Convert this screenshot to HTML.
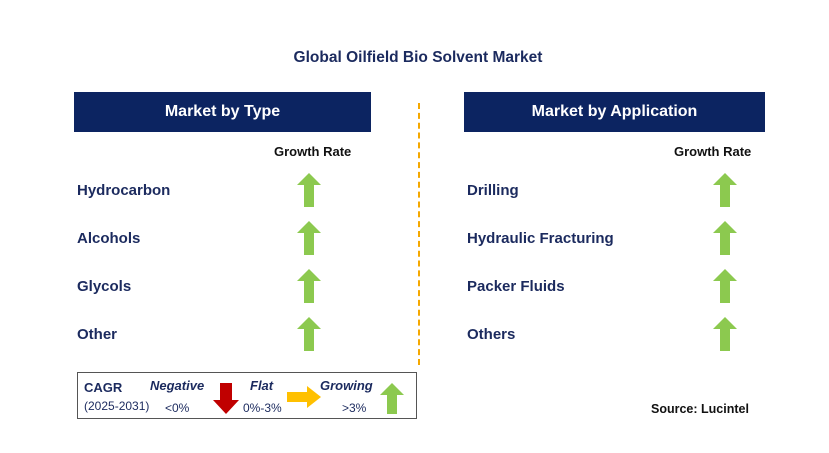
<!DOCTYPE html>
<html><head><meta charset="utf-8"><style>
body{margin:0;width:829px;height:453px;background:#fff;position:relative;font-family:"Liberation Sans",sans-serif;overflow:hidden}
.a{position:absolute}
.hdr{background:#0c2461;color:#fff;font-weight:bold;font-size:16px;text-align:center;line-height:40px;height:40px}
.lbl{font-weight:bold;font-size:15px;color:#1b2a5e}
.gr{font-weight:bold;font-size:13px;color:#111}
</style></head><body>
<div class="a" style="left:0;width:836px;top:49px;text-align:center;font-weight:bold;font-size:15.5px;color:#1b2a5e">Global Oilfield Bio Solvent Market</div>
<div class="a hdr" style="left:74px;top:92px;width:297px">Market by Type</div>
<div class="a hdr" style="left:464px;top:92px;width:301px">Market by Application</div>
<div class="a gr" style="left:274px;top:144px">Growth Rate</div>
<div class="a gr" style="left:674px;top:144px">Growth Rate</div>
<div class="a" style="left:418px;top:103px;height:262px;border-left:2px dashed #f5a800"></div>
<svg class="a" style="left:0;top:0" width="829" height="453">
<defs><polygon id="up" points="0,-17 12,-5 5,-5 5,17 -5,17 -5,-5 -12,-5" fill="#8cc94f"/></defs>
<g id="g"></g>
</svg>
<div id="rows"></div>
<div class="a" style="left:77px;top:372px;width:340px;height:47px;border:1px solid #555;box-sizing:border-box"></div>
<div class="a" style="left:84px;top:380px;font-weight:bold;font-size:13px;color:#1b2a5e">CAGR</div>
<div class="a" style="left:84px;top:399px;font-size:12px;color:#1b2a5e">(2025-2031)</div>
<div class="a" style="left:150px;top:378px;font-weight:bold;font-style:italic;font-size:13px;color:#1b2a5e">Negative</div>
<div class="a" style="left:165px;top:401px;font-size:12px;color:#1b2a5e">&lt;0%</div>
<div class="a" style="left:250px;top:378px;font-weight:bold;font-style:italic;font-size:13px;color:#1b2a5e">Flat</div>
<div class="a" style="left:243px;top:401px;font-size:12px;color:#1b2a5e">0%-3%</div>
<div class="a" style="left:320px;top:378px;font-weight:bold;font-style:italic;font-size:13px;color:#1b2a5e">Growing</div>
<div class="a" style="left:342px;top:401px;font-size:12px;color:#1b2a5e">&gt;3%</div>
<svg class="a" style="left:0;top:0" width="829" height="453">
<polygon points="220,383 232,383 232,400 239,400 226,414 213,400 220,400" fill="#c00000"/>
<polygon points="287,392 307,392 307,386 321,397 307,408 307,402 287,402" fill="#ffc000"/>
<polygon points="392,383 404,395 397,395 397,414 387,414 387,395 380,395" fill="#8cc94f"/>
</svg>
<div class="a" style="left:651px;top:402px;font-weight:bold;font-size:12.5px;color:#111">Source: Lucintel</div>
<script>
const typeCats=["Hydrocarbon","Alcohols","Glycols","Other"];
const appCats=["Drilling","Hydraulic Fracturing","Packer Fluids","Others"];
const rowY=i=>190+i*48;
const g=document.getElementById('g'),rows=document.getElementById('rows');
function add(cats,lx,ax,pre){
cats.forEach((c,i)=>{
const d=document.createElement('div');d.className='a lbl';d.style.left=lx+'px';d.style.top=(rowY(i)-8)+'px';d.textContent=c;


rows.appendChild(d);
const u=document.createElementNS('http://www.w3.org/2000/svg','use');u.setAttribute('href','#up');u.setAttribute('transform','translate('+ax+','+rowY(i)+')');


g.appendChild(u);});
}
add(typeCats,77,309,'type');add(appCats,467,725,'application');
</script>
</body></html>
